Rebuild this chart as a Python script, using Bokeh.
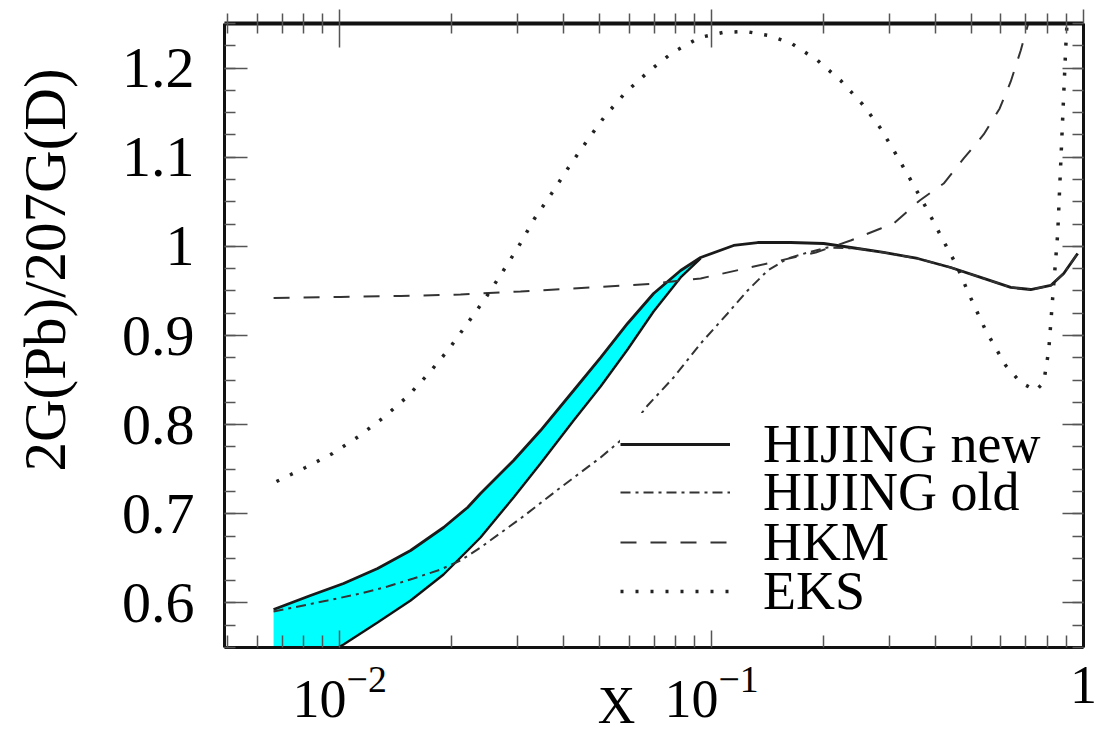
import numpy as np
from bokeh.plotting import figure
from bokeh.models import (Range1d, FixedTicker, LogAxis, LinearAxis, Title,
                          Legend, LegendItem, CustomJSTickFormatter, LogTickFormatter)
from bokeh.embed import file_html
from bokeh.resources import INLINE

# ---------------- data ----------------
# HIJING new: shaded band (lower / upper edge) for small x
band_x = [0.00664, 0.008346, 0.01024, 0.01264, 0.01551, 0.01902, 0.02207, 0.02391,
          0.02934, 0.03467, 0.04255, 0.05029, 0.05943, 0.06982, 0.08254, 0.09344]
band_high = [0.5926, 0.6083, 0.6218, 0.6386, 0.6588, 0.6846, 0.7071, 0.7228,
             0.7598, 0.7934, 0.8383, 0.8753, 0.9135, 0.9471, 0.9729, 0.9875]
band_low = [0.5107, 0.5332, 0.5534, 0.5780, 0.6027, 0.6319, 0.6588, 0.6734,
            0.7183, 0.7564, 0.8047, 0.8428, 0.8843, 0.9269, 0.9651, 0.9864]

# HIJING new: continuation (single curve) at large x
new_tail_x = [0.1146, 0.1330, 0.1631, 0.2001, 0.2470, 0.2902, 0.3581, 0.4395,
              0.5390, 0.6374, 0.7211, 0.8163, 0.8847, 0.9647]
new_tail_y = [1.0010, 1.0043, 1.0043, 1.0032, 0.9976, 0.9932, 0.9864, 0.9763,
              0.9640, 0.9539, 0.9516, 0.9561, 0.9696, 0.9920]

# HIJING old (dash-dot)
old_x = [0.00664, 0.00751, 0.00927, 0.01138, 0.01345, 0.01579, 0.01867, 0.02113,
         0.02391, 0.03064, 0.03926, 0.05029, 0.05691, 0.06728, 0.07902, 0.09344,
         0.1104, 0.1250, 0.1415, 0.1601, 0.1813, 0.2051, 0.2470, 0.2902, 0.3581,
         0.4395, 0.5390, 0.6374, 0.7211, 0.8163, 0.8847, 0.9647]
old_y = [0.5904, 0.5949, 0.6027, 0.6106, 0.6184, 0.6274, 0.6375, 0.6476,
         0.6622, 0.6947, 0.7295, 0.7632, 0.7822, 0.8215, 0.8529, 0.8910,
         0.9247, 0.9505, 0.9729, 0.9864, 0.9931, 0.9987, 0.9976, 0.9932, 0.9864,
         0.9763, 0.9640, 0.9539, 0.9516, 0.9561, 0.9696, 0.9920]

# HKM (dashed)
hkm_x = [0.00664, 0.01005, 0.01458, 0.02113, 0.03064, 0.04727, 0.06855, 0.09344,
         0.1234, 0.1533, 0.1905, 0.2365, 0.2849, 0.3087, 0.3627, 0.4207, 0.4763,
         0.5390, 0.5952, 0.6374, 0.6779, 0.7079, 0.7182]
hkm_y = [0.9421, 0.9432, 0.9443, 0.9460, 0.9494, 0.9539, 0.9578, 0.9640,
         0.9752, 0.9842, 0.9931, 1.0066, 1.0200, 1.0256, 1.0515, 1.0705, 1.0986,
         1.1255, 1.1547, 1.1850, 1.2197, 1.2478, 1.2620]

# EKS (dotted)
eks_x = [0.00676, 0.00809, 0.00957, 0.01124, 0.01312, 0.01522, 0.01734, 0.01963,
         0.02194, 0.02452, 0.02724, 0.03027, 0.03342, 0.03713, 0.04124, 0.04611,
         0.05157, 0.05870, 0.06770, 0.07853, 0.09286, 0.1071, 0.1234, 0.1424,
         0.1641, 0.1928, 0.2223, 0.2548, 0.2849, 0.3146, 0.3473, 0.3811, 0.4155,
         0.4560, 0.4912, 0.5458, 0.6177, 0.6779, 0.7441, 0.7816, 0.8063, 0.8264,
         0.8524, 0.8739, 0.8959, 0.9051]
eks_y = [0.7362, 0.7519, 0.7676, 0.7867, 0.8080, 0.8316, 0.8574, 0.8843,
         0.9124, 0.9404, 0.9696, 0.9999, 1.0313, 1.0593, 1.0885, 1.1177,
         1.1457, 1.1726, 1.1962, 1.2175, 1.2343, 1.2399, 1.2411, 1.2366,
         1.2276, 1.2085, 1.1861, 1.1592, 1.1322, 1.1019, 1.0705, 1.0402, 1.0100,
         0.9785, 0.9471, 0.9056, 0.8664, 0.8473, 0.8383, 0.8473, 0.8832, 0.9426,
         1.0144, 1.1188, 1.2231, 1.2590]

legend_labels = ["HIJING new", "HIJING old", "HKM", "EKS"]

x_major = [0.01, 0.1, 1.0]          # shown as 10^-2, 10^-1, 1
y_major = [0.6, 0.7, 0.8, 0.9, 1.0, 1.1, 1.2]
y_major_labels = ["0.6", "0.7", "0.8", "0.9", "1", "1.1", "1.2"]
y_title = "2G(Pb)/207G(D)"
x_title = "X"
x_title_pos = 0.0555                # where the x-axis title sits along the axis

# ---------------- figure ----------------
FONT = "Liberation Serif"

p = figure(width=1100, height=738, x_axis_type="log",
           x_range=Range1d(0.0049, 1.0), y_range=Range1d(0.55, 1.25),
           output_backend="svg", toolbar_location=None,
           min_border_left=224, min_border_right=17,
           min_border_top=23, min_border_bottom=91)
p.outline_line_color = None
p.grid.visible = False
p.background_fill_color = "white"
p.border_fill_color = "white"

x_minor = [m * 10.0 ** e for e in (-3, -2, -1) for m in range(2, 10)]
y_minor = [round(0.55 + 0.025 * i, 4) for i in range(29)]

blank = CustomJSTickFormatter(code="return ''")

# bottom axis: decades with superscript exponents
xb = p.xaxis[0]
xb.ticker = FixedTicker(ticks=x_major, minor_ticks=x_minor)
xb.formatter = LogTickFormatter()
xb.major_label_overrides = {1.0: "1"}
xb.major_label_text_font = FONT
xb.major_label_text_font_size = "54px"
xb.major_label_text_color = "black"
xb.major_label_standoff = 19
xb.axis_line_width = 3
xb.major_tick_in = 17
xb.major_tick_out = 0
xb.minor_tick_in = 12
xb.minor_tick_out = 0

# second bottom axis: only carries the axis title "X", pulled up between the decade labels
xt = LogAxis(ticker=FixedTicker(ticks=[x_title_pos]), formatter=blank)
xt.major_label_overrides = {x_title_pos: x_title}
xt.axis_line_color = None
xt.major_tick_line_color = None
xt.minor_tick_line_color = None
xt.major_tick_in = 0
xt.major_tick_out = 0
xt.minor_tick_in = 0
xt.minor_tick_out = 0
xt.major_label_standoff = -43
xt.major_label_text_font = FONT
xt.major_label_text_font_size = "52px"
xt.major_label_text_color = "black"
p.add_layout(xt, "below")

# left axis
yl = p.yaxis[0]
yl.ticker = FixedTicker(ticks=y_major, minor_ticks=y_minor)
yl.major_label_overrides = {v: s for v, s in zip(y_major, y_major_labels)}
yl.major_label_text_font = FONT
yl.major_label_text_font_size = "58px"
yl.major_label_text_color = "black"
yl.major_label_standoff = 30
yl.axis_line_width = 3
yl.major_tick_in = 23
yl.major_tick_out = 0
yl.minor_tick_in = 11
yl.minor_tick_out = 0

# top axis
xa = LogAxis(ticker=FixedTicker(ticks=x_major, minor_ticks=x_minor), formatter=blank)
xa.axis_line_width = 4
xa.major_tick_in = 24
xa.major_tick_out = 14
xa.minor_tick_in = 10
xa.minor_tick_out = 10
p.add_layout(xa, "above")

# right axis
yr = LinearAxis(ticker=FixedTicker(ticks=y_major, minor_ticks=y_minor), formatter=blank)
yr.axis_line_width = 3
yr.major_tick_in = 21
yr.major_tick_out = 0
yr.minor_tick_in = 11
yr.minor_tick_out = 0
p.add_layout(yr, "right")

for ax in (xb, yl, xa, yr):
    ax.major_tick_line_color = "#555555"
    ax.minor_tick_line_color = "#555555"
    ax.major_tick_line_width = 1.5
    ax.minor_tick_line_width = 1.5
    ax.axis_line_color = "#111111"

# spacer panel between the y tick labels and the y title (pushes the title outward)
p.add_layout(Title(text=" ", standoff=28, text_font=FONT, text_font_size="10px",
                   text_font_style="normal"), "left")
# y-axis title (rotated, in the outer left panel)
p.add_layout(Title(text=y_title, align="left", offset=176, standoff=0,
                   text_font=FONT, text_font_size="59px", text_font_style="normal",
                   text_color="black"), "left")

# ---------------- glyphs ----------------
p.varea(x=band_x, y1=band_low, y2=band_high, fill_color="#00FFFF", fill_alpha=1.0)
p.line(band_x, band_low, line_color="#111111", line_width=2.4)
new_x = band_x + new_tail_x
new_y = band_high + new_tail_y
r_new = p.line(new_x, new_y, line_color="#1a1a1a", line_width=2.8)
r_old = p.line(old_x, old_y, line_color="#333333", line_width=2, line_dash="10 5 3 5")
r_hkm = p.line(hkm_x, hkm_y, line_color="#333333", line_width=2, line_dash="16 14")
r_eks = p.line(eks_x, eks_y, line_color="#222222", line_width=3.5, line_dash="3 12")

# ---------------- legend (one box per row for tight row spacing) ----------------
row_offsets = [172, 124, 74, 25]     # screen px above the frame bottom
for i, (lab, r, yoff) in enumerate(zip(legend_labels, [r_new, r_old, r_hkm, r_eks], row_offsets)):
    lg = Legend(items=[LegendItem(label=lab, renderers=[r])],
                location=(396, yoff), orientation="vertical",
                glyph_width=110, glyph_height=20, label_height=20,
                label_standoff=33, spacing=0, padding=0, margin=0,
                label_text_font=FONT, label_text_font_size="54px",
                label_text_color="black",
                background_fill_color="white",
                background_fill_alpha=1.0 if i == 0 else 0.0,
                border_line_color=None)
    p.add_layout(lg)

open("out.html", "w").write(file_html(p, INLINE))
